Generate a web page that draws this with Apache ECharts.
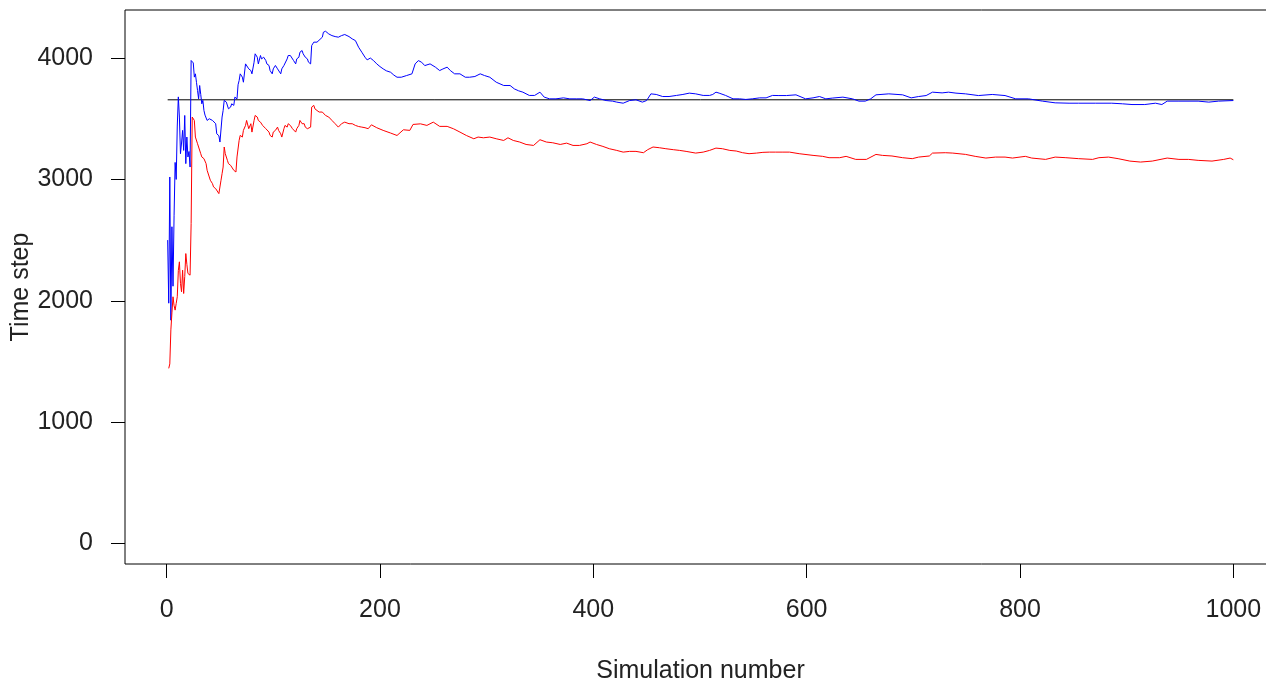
<!DOCTYPE html>
<html>
<head>
<meta charset="utf-8">
<script src="https://cdn.jsdelivr.net/npm/echarts@6/dist/echarts.min.js"></script>
<style>
html,body{margin:0;padding:0;background:#fff;}
#chart{width:1266px;height:682px;}
</style>
</head>
<body>
<div id="chart"></div>
<script>
// ---- data ----
const xTicks = [0, 200, 400, 600, 800, 1000];
const yTicks = [0, 1000, 2000, 3000, 4000];
const refLineX = [1, 1000];
const refLineY = [3656, 3656];

const blueX = [1,2,3,4,5,6,7,8,9,10,11,12,13,14,15,16,17,18,19,20,21,22,23,24,25,26,27,28,29,30,31,32,33,34,35,36,37,38,40,43,44,46,47,48,49,50,52,53,54,56,58,60,61,63,64,66,67,68,69,71,72,74,75,77,79,80,82,83,85,86,88,89,91,93,94,96,97,99,100,102,104,105,107,108,110,111,113,114,116,117,119,121,122,124,125,127,128,130,132,133,135,136,138,139,141,142,146,147,149,152,155,158,161,164,167,171,174,177,180,183,186,188,191,194,197,200,203,206,210,213,216,220,225,230,233,236,239,242,247,252,256,259,263,266,270,275,280,284,289,294,298,303,309,316,322,326,330,334,340,345,350,354,359,365,372,378,384,390,397,401,406,412,418,422,428,434,440,446,450,454,459,465,471,478,484,490,496,503,509,512,515,518,524,531,537,543,549,556,562,568,574,581,590,599,606,612,618,624,634,643,649,655,660,665,677,690,698,705,712,718,727,733,740,749,761,774,786,796,808,821,833,846,855,871,886,896,905,917,927,933,938,949,967,977,986,1000];
const blueY = [2500,1980,3020,1840,2610,2120,2700,3140,3000,3440,3680,3514,3212,3300,3404,3239,3527,3130,3349,3185,3230,3102,3980,3980,3960,3843,3870,3800,3733,3664,3774,3700,3623,3651,3568,3530,3514,3486,3500,3486,3500,3459,3376,3390,3360,3308,3514,3568,3651,3637,3582,3596,3623,3610,3678,3664,3780,3815,3870,3843,3801,3952,3939,3911,3897,3870,3966,4035,4007,3952,4021,3993,4007,3980,3952,3939,3897,3870,3911,3939,3911,3897,3870,3911,3939,3952,3993,4021,4021,4007,3980,3952,3993,4007,4048,4062,4035,4007,3993,3966,3952,4103,4131,4117,4131,4144,4172,4213,4221,4199,4185,4177,4172,4185,4194,4177,4158,4144,4089,4048,4007,3985,4000,3979,3952,3930,3911,3895,3883,3860,3842,3842,3856,3870,3952,3979,3966,3938,3952,3925,3897,3910,3925,3897,3870,3870,3842,3842,3848,3870,3856,3842,3801,3774,3774,3746,3730,3719,3692,3692,3719,3678,3664,3664,3672,3664,3664,3664,3650,3678,3664,3650,3645,3637,3628,3650,3656,3637,3650,3705,3700,3683,3683,3692,3700,3711,3705,3692,3692,3700,3719,3711,3692,3664,3664,3659,3664,3672,3672,3692,3691,3691,3697,3664,3672,3683,3664,3670,3678,3664,3645,3645,3664,3697,3705,3697,3672,3683,3691,3719,3713,3719,3711,3705,3691,3700,3691,3664,3664,3645,3631,3628,3628,3628,3628,3623,3617,3617,3628,3617,3645,3645,3645,3637,3645,3650];

const redX = [2,3,4,5,6,7,8,9,10,11,12,13,14,15,16,17,18,19,20,21,22,23,24,25,26,27,29,30,32,33,35,37,38,40,41,43,44,46,47,49,50,51,52,53,54,55,57,58,60,61,63,65,66,68,69,71,72,74,75,77,79,80,82,83,85,86,88,90,91,93,94,96,97,99,100,102,104,105,107,108,110,111,113,114,116,118,119,121,122,124,125,127,129,130,132,133,135,136,138,139,141,143,144,146,149,152,155,158,161,164,167,171,174,177,180,183,186,189,192,197,203,210,216,222,228,231,238,244,250,256,263,269,275,281,288,292,297,303,309,316,320,325,331,337,344,350,356,362,369,375,381,387,394,397,403,409,415,422,428,434,440,447,451,456,462,468,475,481,487,496,503,509,515,521,528,534,540,546,553,559,565,571,577,584,593,606,615,621,631,637,646,656,665,671,680,690,699,705,715,718,730,737,749,758,768,777,786,793,805,811,824,833,843,855,868,874,883,892,903,913,924,938,949,958,967,980,991,997,1000];
const redY = [1443,1480,1760,1900,2033,1960,1923,1978,2033,2250,2321,2143,2074,2252,2060,2200,2389,2300,2225,2240,2211,2636,3514,3527,3486,3349,3294,3267,3212,3185,3171,3130,3075,3020,2993,2965,2938,2924,2910,2883,2869,2993,3047,3102,3267,3212,3157,3130,3116,3102,3075,3061,3185,3322,3363,3349,3404,3445,3486,3418,3459,3390,3486,3527,3514,3486,3472,3445,3431,3418,3431,3390,3363,3349,3390,3404,3431,3404,3376,3349,3418,3445,3431,3459,3445,3418,3404,3390,3418,3445,3486,3459,3459,3431,3418,3431,3431,3596,3610,3582,3568,3555,3541,3555,3527,3514,3486,3459,3431,3459,3472,3459,3459,3445,3436,3431,3426,3418,3450,3426,3404,3382,3362,3409,3404,3453,3458,3445,3472,3437,3437,3417,3390,3362,3335,3349,3343,3349,3335,3321,3343,3321,3308,3288,3280,3327,3308,3302,3288,3299,3280,3280,3294,3308,3288,3272,3253,3239,3225,3231,3231,3220,3245,3267,3261,3253,3245,3239,3231,3217,3225,3239,3258,3253,3239,3234,3220,3212,3217,3223,3225,3225,3225,3225,3212,3198,3190,3179,3179,3190,3165,3165,3206,3198,3193,3179,3171,3184,3193,3217,3220,3217,3206,3190,3176,3184,3184,3176,3190,3176,3165,3184,3179,3171,3165,3179,3184,3171,3151,3143,3151,3176,3165,3165,3157,3151,3165,3176,3162];

function zip(xs, ys) { return xs.map((x, i) => [x, ys[i]]); }

const FONT = 'Liberation Sans, Arial, sans-serif';
const TXT = '#222';
const plain = v => String(v);

const chart = echarts.init(document.getElementById('chart'), null, {renderer: 'canvas'});
chart.setOption({
  animation: false,
  backgroundColor: '#fff',
  grid: {
    left: 125, top: 10, width: 1151, height: 554,
    containLabel: false, outerBoundsMode: 'none',
    show: true, borderColor: '#000', borderWidth: 1, backgroundColor: 'transparent'
  },
  xAxis: {
    type: 'value', min: -39, max: 1040,
    name: 'Simulation number', nameLocation: 'middle', nameGap: 95, nameMoveOverlap: false,
    nameTextStyle: {fontSize: 25, color: TXT, fontFamily: FONT},
    axisLine: {show: false, onZero: false},
    splitLine: {show: false},
    axisTick: {show: true, customValues: xTicks, length: 14, inside: false, lineStyle: {color: '#000', width: 1}},
    axisLabel: {customValues: xTicks, formatter: plain, fontSize: 25, color: TXT, fontFamily: FONT, margin: 34}
  },
  yAxis: {
    type: 'value', min: -169, max: 4396,
    name: 'Time step', nameLocation: 'middle', nameGap: 91, nameMoveOverlap: false,
    nameTextStyle: {fontSize: 25, color: TXT, fontFamily: FONT},
    axisLine: {show: false, onZero: false},
    splitLine: {show: false},
    axisTick: {show: true, customValues: yTicks, length: 14, inside: false, lineStyle: {color: '#000', width: 1}},
    axisLabel: {customValues: yTicks, formatter: plain, fontSize: 25, color: TXT, fontFamily: FONT, margin: 32}
  },
  series: [
    {type: 'line', data: zip(refLineX, refLineY), showSymbol: false, lineStyle: {color: '#000', width: 1}, z: 1},
    {type: 'line', data: zip(blueX, blueY), showSymbol: false, lineStyle: {color: '#0000ff', width: 1}, z: 2},
    {type: 'line', data: zip(redX, redY), showSymbol: false, lineStyle: {color: '#ff0000', width: 1}, z: 3}
  ]
});
</script>
</body>
</html>
